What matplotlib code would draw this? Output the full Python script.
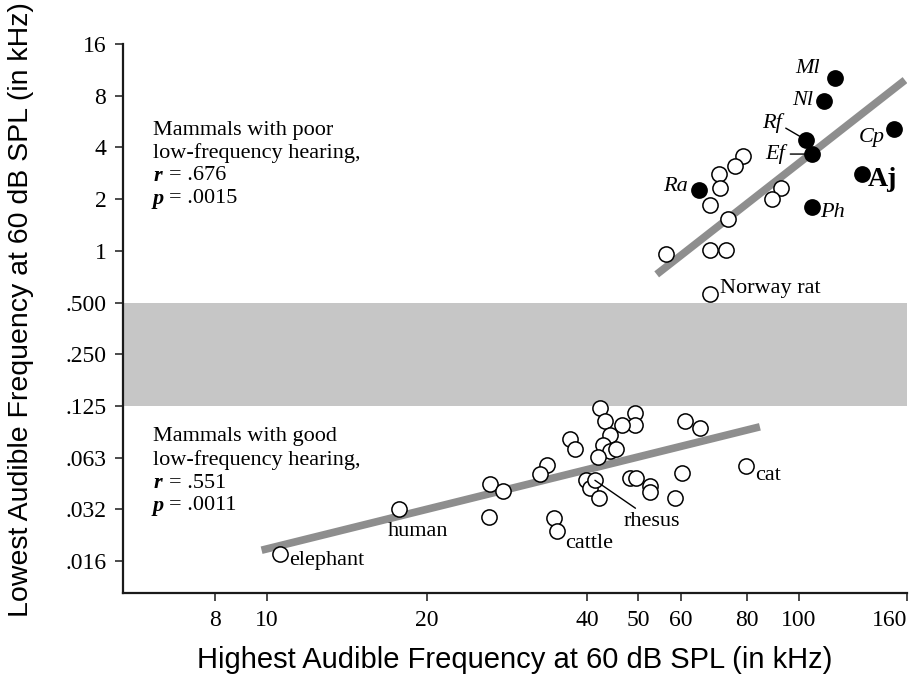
import numpy as np
import matplotlib.pyplot as plt
from matplotlib.ticker import FixedLocator, FixedFormatter, NullLocator

W, H = 916, 685
SERIF = 'Liberation Serif'
SANS = 'Liberation Sans'

# mammals with poor low-frequency hearing (open circles), kHz
poor_hi = [78.7, 75.9, 70.9, 71.2, 68.1, 73.6, 92.7, 89.0, 68.1, 73.0, 56.3]
poor_lo = [3.57, 3.13, 2.80, 2.32, 1.85, 1.54, 2.32, 2.0, 1.01, 1.01, 0.957]
# bats (filled circles)
bat_names = ['Ml', 'Nl', 'Rf', 'Ef', 'Cp', 'Aj', 'Ph', 'Ra']
bat_hi = [117.1, 111.7, 103.2, 105.9, 151.2, 131.8, 105.9, 64.9]
bat_lo = [10.1, 7.47, 4.43, 3.66, 5.11, 2.80, 1.79, 2.26]
poor_fit_hi = [54.1, 158.6]
poor_fit_lo = [0.73, 9.86]

# mammals with good low-frequency hearing
good_hi = [42.3, 43.3, 49.2, 49.2, 46.6, 44.2, 37.1, 38.0, 42.8, 44.2, 45.4, 42.0,
           61.2, 65.3, 33.6, 32.6, 26.3, 27.8, 26.2, 34.6, 39.9, 40.6, 42.2,
           48.2, 49.5, 52.6, 52.6, 60.5, 58.6]
good_lo = [0.1225, 0.1023, 0.1134, 0.0971, 0.0971, 0.0849, 0.0801, 0.0707, 0.0743,
           0.0684, 0.0707, 0.0634, 0.1023, 0.0937, 0.0568, 0.0505, 0.0441, 0.0401,
           0.0283, 0.0280, 0.0462, 0.0415, 0.0363, 0.0475, 0.0475, 0.0428, 0.0396,
           0.0512, 0.0363]
good_fit_hi = [9.77, 84.6]
good_fit_lo = [0.0181, 0.0946]

# named species
named = ['elephant', 'human', 'cattle', 'rhesus', 'cat', 'Norway rat']
named_hi = [10.6, 17.7, 35.1, 41.4, 79.6, 68.1]
named_lo = [0.0173, 0.0314, 0.0234, 0.0462, 0.0560, 0.56]

xticks = [8, 10, 20, 40, 50, 60, 80, 100, 160]
yticks = [1/64, 1/32, 1/16, 1/8, 1/4, 1/2, 1, 2, 4, 8, 16]
ytick_labels = ['.016', '.032', '.063', '.125', '.250', '.500', '1', '2', '4', '8', '16']

fig = plt.figure(figsize=(W / 100, H / 100), dpi=100)
ax = fig.add_axes([123 / W, 1 - 593 / H, (907 - 123) / W, (593 - 44) / H])
ax.set_xscale('log')
ax.set_yscale('log')
ax.set_xlim(5.36, 160)
ax.set_ylim(0.0102, 16)

ax.axhspan(0.125, 0.5, color='#c6c6c6', lw=0, zorder=0)

# regression lines
ax.plot(poor_fit_hi, poor_fit_lo, color='#8e8e8e', lw=5.5, solid_capstyle='butt', zorder=1)
ax.plot(good_fit_hi, good_fit_lo, color='#8e8e8e', lw=5.5, solid_capstyle='butt', zorder=1)

mk = dict(s=120, linewidths=1.1, edgecolors='black', zorder=3)
ax.scatter(poor_hi, poor_lo, facecolors='white', **mk)
ax.scatter(good_hi, good_lo, facecolors='white', **mk)
ax.scatter(named_hi, named_lo, facecolors='white', **mk)
ax.scatter(bat_hi, bat_lo, facecolors='black', **mk)

# bat labels: offsets in pixels (x right, y up)
bat_off = {'Ml': (-15, 10, 'right'), 'Nl': (-11, 0, 'right'), 'Rf': (-24, 17, 'right'),
           'Ef': (-27, 0, 'right'), 'Cp': (-9, -8, 'right'), 'Aj': (6, -5, 'left'),
           'Ph': (8, -5, 'left'), 'Ra': (-11, 4, 'right')}
for n, hx, ly in zip(bat_names, bat_hi, bat_lo):
    dx, dy, ha = bat_off[n]
    if n == 'Aj':
        kw = dict(fontweight='bold', fontsize=20)
    else:
        kw = dict(fontstyle='italic', fontsize=16)
    arrow = None
    if n == 'Rf':
        arrow = dict(arrowstyle='-', lw=1, color='black', relpos=(1.0, 0.35), shrinkA=1, shrinkB=2)
    if n == 'Ef':
        arrow = dict(arrowstyle='-', lw=1, color='black', relpos=(1.0, 0.5), shrinkA=2, shrinkB=4)
    ax.annotate(n, (hx, ly), xytext=(dx, dy), textcoords='offset pixels', ha=ha, va='center',
                family=SERIF, arrowprops=arrow, zorder=4, **kw)

name_off = {'elephant': (9, -7, 'left'), 'human': (19, -22, 'center'),
            'cattle': (8, -12, 'left'), 'rhesus': (57, -41, 'center'),
            'cat': (9, -10, 'left'), 'Norway rat': (10, 6, 'left')}
for n, hx, ly in zip(named, named_hi, named_lo):
    dx, dy, ha = name_off[n]
    arrow = None
    if n == 'rhesus':
        arrow = dict(arrowstyle='-', lw=1, color='black', relpos=(0.3, 1.0), shrinkA=1, shrinkB=0)
    ax.annotate(n, (hx, ly), xytext=(dx, dy), textcoords='offset pixels', ha=ha, va='center',
                family=SERIF, fontsize=16, arrowprops=arrow, zorder=4)

# axes styling
for s in ['top', 'right']:
    ax.spines[s].set_visible(False)
for s in ['left', 'bottom']:
    ax.spines[s].set_linewidth(1.6)
    ax.spines[s].set_color('#1a1a1a')
ax.xaxis.set_major_locator(FixedLocator(xticks))
ax.xaxis.set_major_formatter(FixedFormatter([str(t) for t in xticks]))
ax.xaxis.set_minor_locator(NullLocator())
ax.yaxis.set_major_locator(FixedLocator(yticks))
ax.yaxis.set_major_formatter(FixedFormatter(ytick_labels))
ax.yaxis.set_minor_locator(NullLocator())
ax.tick_params(length=6, width=1.1, pad=6, labelsize=17, color='#1a1a1a')
for lab in ax.get_xticklabels() + ax.get_yticklabels():
    lab.set_family(SERIF)
ax.get_xticklabels()[-1].set_ha('right')


def ptext(px, py, s, **kw):
    fig.text(px / W, 1 - py / H, s, va='center', family=SERIF, fontsize=16, **kw)


ptext(153, 130, 'Mammals with poor')
ptext(153, 153, 'low-frequency hearing,')
ptext(154, 176, 'r', fontstyle='italic', fontweight='bold')
ptext(169, 176, '= .676')
ptext(153, 199, 'p', fontstyle='italic', fontweight='bold')
ptext(169, 199, '= .0015')

ptext(153, 437, 'Mammals with good')
ptext(153, 460, 'low-frequency hearing,')
ptext(154, 483, 'r', fontstyle='italic', fontweight='bold')
ptext(169, 483, '= .551')
ptext(153, 506, 'p', fontstyle='italic', fontweight='bold')
ptext(169, 506, '= .0011')

fig.text(515 / W, 1 - 660 / H, 'Highest Audible Frequency at 60 dB SPL (in kHz)',
         ha='center', va='center', family=SANS, fontsize=21)
fig.text(21 / W, 1 - 310 / H, 'Lowest Audible Frequency at 60 dB SPL (in kHz)',
         ha='center', va='center', rotation=90, family=SANS, fontsize=20.5)

fig.savefig('out.png', dpi=100)
